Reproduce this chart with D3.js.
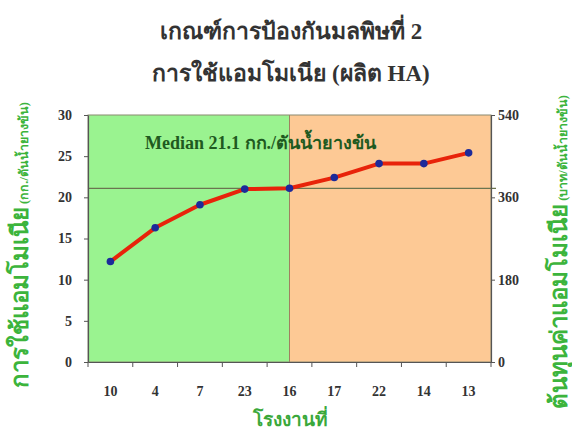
<!DOCTYPE html>
<html>
<head>
<meta charset="utf-8">
<script src="https://cdn.jsdelivr.net/npm/d3@7"></script>
<style>
  html, body { margin: 0; padding: 0; background: #fff; }
  svg { display: block; }
  text { font-family: "Liberation Serif", "Times New Roman", serif; }
</style>
</head>
<body>
<svg id="chart" width="572" height="438"></svg>
<script>
// Factories, ordered by ammonia use
const factories = ["10", "4", "7", "23", "16", "17", "22", "14", "13"];
// Ammonia use (kg per tonne of concentrated latex)
const ammoniaUse = [12.2, 16.3, 19.1, 21.0, 21.1, 22.4, 24.1, 24.1, 25.4];
const medianValue = 21.1;
const medianFactory = "16";
const leftTicks = [0, 5, 10, 15, 20, 25, 30];
const rightTicks = [0, 180, 360, 540];
const titleLines = ["เกณฑ์การป้องกันมลพิษที่ 2", "การใช้แอมโมเนีย (ผลิต HA)"];
const xTitle = "โรงงานที่";
const yTitleMain = "การใช้แอมโมเนีย";
const yTitleUnit = " (กก./ตันน้ำยางข้น)";
const y2TitleMain = "ต้นทุนค่าแอมโมเนีย";
const y2TitleUnit = " (บาท/ตันน้ำยางข้น)";
const medianLabel = "Median 21.1 กก./ตันน้ำยางข้น";

const svg = d3.select("#chart");
const plot = { left: 88, right: 491, top: 115, bottom: 362 };

const x = d3.scaleBand().domain(factories).range([plot.left, plot.right]);
const y = d3.scaleLinear().domain([0, 30]).range([plot.bottom, plot.top]);
const y2 = d3.scaleLinear().domain([0, 540]).range([plot.bottom, plot.top]);

const splitX = x(medianFactory) + x.bandwidth() / 2;

// Background zones: below / above median
svg.append("rect")
  .attr("x", plot.left).attr("y", plot.top)
  .attr("width", splitX - plot.left).attr("height", plot.bottom - plot.top)
  .attr("fill", "#9af390");
svg.append("rect")
  .attr("x", splitX).attr("y", plot.top)
  .attr("width", plot.right - splitX).attr("height", plot.bottom - plot.top)
  .attr("fill", "#fdc995");
svg.append("line")
  .attr("x1", splitX).attr("x2", splitX)
  .attr("y1", plot.top).attr("y2", plot.bottom)
  .attr("stroke", "#a08060").attr("stroke-width", 1);
svg.append("rect")
  .attr("x", plot.left).attr("y", plot.top)
  .attr("width", plot.right - plot.left).attr("height", plot.bottom - plot.top)
  .attr("fill", "none").attr("stroke", "#8a8a70").attr("stroke-width", 1);

// Median reference line
svg.append("line")
  .attr("x1", plot.left).attr("x2", plot.right + 5)
  .attr("y1", y(medianValue)).attr("y2", y(medianValue))
  .attr("stroke", "#6b7550").attr("stroke-width", 1.3);

// Axes
const axisStyle = g => {
  g.select(".domain").attr("stroke", "#555").attr("stroke-width", 1.2);
  g.selectAll(".tick line").attr("stroke", "#555");
  g.selectAll(".tick text")
    .attr("font-family", "'Liberation Serif', serif")
    .attr("font-weight", "bold").attr("font-size", 14).attr("fill", "#333");
};

svg.append("g")
  .attr("transform", `translate(${plot.left},0)`)
  .call(d3.axisLeft(y).tickValues(leftTicks).tickSize(4).tickPadding(12).tickSizeOuter(0))
  .call(axisStyle);

svg.append("g")
  .attr("transform", `translate(${plot.right},0)`)
  .call(d3.axisRight(y2).tickValues(rightTicks).tickSize(4).tickPadding(3).tickSizeOuter(0))
  .call(axisStyle);

const xAxis = svg.append("g")
  .attr("transform", `translate(0,${plot.bottom})`)
  .call(d3.axisBottom(x).tickSize(0).tickPadding(24).tickSizeOuter(0))
  .call(axisStyle);
// tick marks at band boundaries
const bounds = factories.map(f => x(f)).concat([plot.right]);
xAxis.selectAll(".bound").data(bounds).enter().append("line")
  .attr("class", "bound")
  .attr("x1", d => d).attr("x2", d => d)
  .attr("y1", 0).attr("y2", 5)
  .attr("stroke", "#555");

// Ammonia-use line with markers
const line = d3.line()
  .x((d, i) => x(factories[i]) + x.bandwidth() / 2)
  .y(d => y(d));
svg.append("path")
  .datum(ammoniaUse)
  .attr("d", line)
  .attr("fill", "none")
  .attr("stroke", "#e8230a")
  .attr("stroke-width", 4)
  .attr("stroke-linejoin", "round");
svg.selectAll(".pt").data(ammoniaUse).enter().append("circle")
  .attr("class", "pt")
  .attr("cx", (d, i) => x(factories[i]) + x.bandwidth() / 2)
  .attr("cy", d => y(d))
  .attr("r", 3.8)
  .attr("fill", "#1c2a9a");

// Median label
svg.append("text")
  .attr("x", 145).attr("y", 149)
  .attr("font-weight", "bold").attr("font-size", 18)
  .attr("fill", "#1f5a1f")
  .text(medianLabel);

// Title
svg.selectAll(".title").data(titleLines).enter().append("text")
  .attr("x", 291)
  .attr("y", (d, i) => 39 + i * 42)
  .attr("text-anchor", "middle")
  .attr("font-weight", "bold").attr("font-size", 23)
  .attr("fill", "#333")
  .text(d => d);

// X axis title
svg.append("text")
  .attr("x", 290).attr("y", 426)
  .attr("text-anchor", "middle")
  .attr("font-weight", "bold").attr("font-size", 19)
  .attr("fill", "#3aa83a")
  .text(xTitle);

// Left axis title
const yT = svg.append("text")
  .attr("transform", "translate(28,245) rotate(-90)")
  .attr("text-anchor", "middle")
  .attr("font-weight", "bold").attr("fill", "#3cb43c");
yT.append("tspan").attr("font-size", 24).text(yTitleMain);
yT.append("tspan").attr("font-size", 12.5).text(yTitleUnit);

// Right axis title
const y2T = svg.append("text")
  .attr("transform", "translate(567,252) rotate(-90)")
  .attr("text-anchor", "middle")
  .attr("font-weight", "bold").attr("fill", "#3cb43c");
y2T.append("tspan").attr("font-size", 24).text(y2TitleMain);
y2T.append("tspan").attr("font-size", 12.5).text(y2TitleUnit);
</script>
</body>
</html>
